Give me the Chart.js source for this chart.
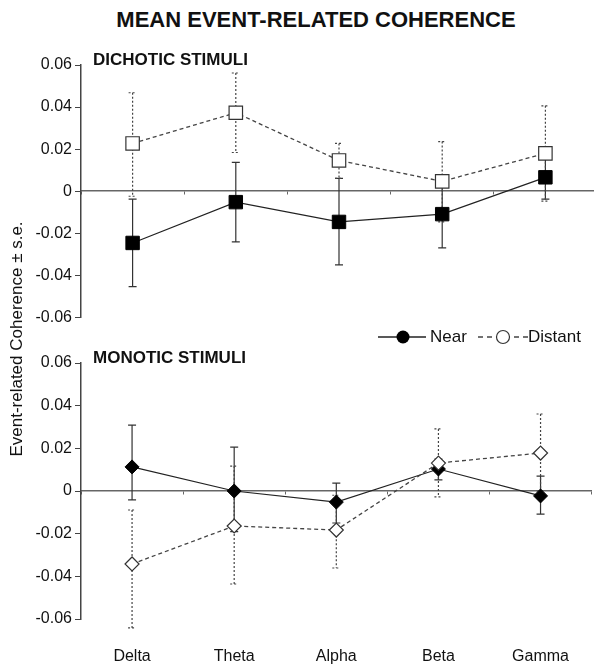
<!DOCTYPE html>
<html>
<head>
<meta charset="utf-8">
<script src="https://cdn.jsdelivr.net/npm/chart.js@4.4.1/dist/chart.umd.min.js"></script>
<style>
	body { margin: 0; background: #fff; font-family: 'Liberation Sans', Arial, sans-serif; color: #111; overflow: hidden; }
	#wrap { position: relative; width: 594px; height: 666px; overflow: hidden; }
	.abs { position: absolute; white-space: nowrap; }
	#title { left: 40px; width: 552px; top: 7px; text-align: center; font-weight: bold; font-size: 22px; line-height: 26px; }
	.panel-label { left: 93px; font-weight: bold; font-size: 17px; line-height: 20px; }
	#ytitle { left: -133px; top: 329px; width: 300px; height: 20px; line-height: 20px; font-size: 17px; text-align: center; transform: rotate(-90deg); }
	.legend-text { top: 327px; font-size: 17px; line-height: 20px; }
	canvas { position: absolute; left: 0; }
</style>
</head>
<body>
<div id="wrap">
	<canvas id="chart-dichotic" width="597" height="290" style="top:40px"></canvas>
	<canvas id="chart-monotic" width="597" height="336" style="top:330px"></canvas>

	<div id="title" class="abs">MEAN EVENT-RELATED COHERENCE</div>
	<div class="abs panel-label" style="top:50px">DICHOTIC STIMULI</div>
	<div class="abs panel-label" style="top:348px">MONOTIC STIMULI</div>
	<div id="ytitle" class="abs">Event-related Coherence ± s.e.</div>

	<svg class="abs" style="left:378px; top:329px" width="48" height="16">
		<line x1="0" y1="8" x2="48" y2="8" stroke="#222" stroke-width="1.3" />
		<circle cx="25" cy="8" r="6.5" fill="#000" />
	</svg>
	<div class="abs legend-text" style="left:430px">Near</div>
	<svg class="abs" style="left:478px; top:329px" width="50" height="16">
		<line x1="0" y1="8" x2="50" y2="8" stroke="#444" stroke-width="1.3" stroke-dasharray="5,4" />
		<circle cx="25" cy="8" r="6.5" fill="#fff" stroke="#333" stroke-width="1.2" />
	</svg>
	<div class="abs legend-text" style="left:528px">Distant</div>
</div>

<script>
const categories = ['Delta', 'Theta', 'Alpha', 'Beta', 'Gamma']
const yTicks = [-0.06, -0.04, -0.02, 0, 0.02, 0.04, 0.06]

// dichotic: means and the ends of the +/- s.e. bars
const dichoticNear = [-0.0246, -0.0052, -0.0146, -0.0109, 0.0066]
const dichoticNearHigh = [-0.0038, 0.0137, 0.0061, 0.005, 0.017]
const dichoticNearLow = [-0.0454, -0.0241, -0.035, -0.0269, -0.0038]
const dichoticDistant = [0.0227, 0.0373, 0.0146, 0.0047, 0.018]
const dichoticDistantHigh = [0.0468, 0.0562, 0.0227, 0.0236, 0.0406]
const dichoticDistantLow = [-0.0024, 0.0184, 0.0061, -0.0146, -0.0047]

// monotic
const monoticNear = [0.0113, 0.0, -0.0052, 0.0103, -0.0023]
const monoticNearHigh = [0.0309, 0.0206, 0.0037, 0.015, 0.007]
const monoticNearLow = [-0.0042, -0.019, -0.015, 0.0052, -0.0108]
const monoticDistant = [-0.0342, -0.0164, -0.0183, 0.0131, 0.0178]
const monoticDistantHigh = [-0.0089, 0.0117, -0.002, 0.0291, 0.0361]
const monoticDistantLow = [-0.0642, -0.0436, -0.0361, -0.0028, 0.0]

const family = "'Liberation Sans', Arial, sans-serif"

const errorBars = {
	id: 'errorBars',
	beforeDatasetsDraw(chart) {
		const { ctx } = chart
		const x = chart.scales.x
		const y = chart.scales.y
		chart.data.datasets.forEach((ds, i) => {
			if (!ds.errHigh || !chart.isDatasetVisible(i)) return
			ctx.save()
			ctx.strokeStyle = ds.errColor
			ctx.lineWidth = 1.2
			ctx.setLineDash(ds.errDash)
			ds.data.forEach((_, j) => {
				const px = x.getPixelForValue(j)
				const top = y.getPixelForValue(ds.errHigh[j])
				const bot = y.getPixelForValue(ds.errLow[j])
				ctx.beginPath()
				ctx.moveTo(px, top)
				ctx.lineTo(px, bot)
				ctx.moveTo(px - 4, top)
				ctx.lineTo(px + 4, top)
				ctx.moveTo(px - 4, bot)
				ctx.lineTo(px + 4, bot)
				ctx.stroke()
			})
			ctx.restore()
		})
	},
}

function makePanel(id, opts) {
	const scales = {
		x: {
			type: 'category',
			position: { y: 0 },
			offset: true,
			grid: { offset: true, drawOnChartArea: false, tickLength: 3, color: '#666' },
			border: { color: '#666', width: 1.5 },
			ticks: { display: false },
		},
		y: {
			min: -0.06,
			max: 0.06,
			afterBuildTicks: (s) => {
				s.ticks = yTicks.map((v) => ({ value: v }))
			},
			afterFit: (s) => {
				s.width = 81
			},
			grid: { drawOnChartArea: false, tickLength: 6, color: '#444' },
			border: { color: '#444', width: 1.5 },
			ticks: {
				padding: 3,
				color: '#111',
				font: { size: 16, family },
				callback: (v) => String(v),
			},
		},
	}
	if (opts.showLabels) {
		scales.xb = {
			type: 'category',
			axis: 'x',
			position: 'bottom',
			offset: true,
			grid: { display: false, drawTicks: false },
			border: { display: false },
			ticks: { padding: 28, color: '#111', font: { size: 16, family } },
			afterFit: (s) => {
				s.height = 47
			},
		}
	}

	return new Chart(document.getElementById(id), {
		type: 'line',
		data: {
			labels: categories,
			datasets: [
				{
					label: 'Near',
					data: opts.near,
					errHigh: opts.nearHigh,
					errLow: opts.nearLow,
					errColor: '#333',
					errDash: [],
					order: 1,
					borderColor: '#222',
					borderWidth: 1.2,
					pointStyle: opts.pointStyle,
					pointRadius: opts.pointRadius,
					pointBackgroundColor: '#000',
					pointBorderColor: '#000',
					pointBorderWidth: 1,
				},
				{
					label: 'Distant',
					data: opts.distant,
					errHigh: opts.distantHigh,
					errLow: opts.distantLow,
					errColor: '#444',
					errDash: [2, 2],
					order: 0,
					borderColor: '#444',
					borderWidth: 1.3,
					borderDash: [4, 3],
					pointStyle: opts.pointStyle,
					pointRadius: opts.pointRadius,
					pointBackgroundColor: '#fff',
					pointBorderColor: '#333',
					pointBorderWidth: 1.2,
				},
			],
		},
		options: {
			responsive: false,
			animation: false,
			layout: { autoPadding: false, padding: opts.padding },
			plugins: {
				legend: { display: false },
				tooltip: { enabled: false },
			},
			scales,
		},
		plugins: [errorBars],
	})
}

makePanel('chart-dichotic', {
	near: dichoticNear,
	nearHigh: dichoticNearHigh,
	nearLow: dichoticNearLow,
	distant: dichoticDistant,
	distantHigh: dichoticDistantHigh,
	distantLow: dichoticDistantLow,
	pointStyle: 'rect',
	pointRadius: 9.5,
	padding: { top: 25, bottom: 11, left: 0, right: 0 },
	showLabels: false,
})

makePanel('chart-monotic', {
	near: monoticNear,
	nearHigh: monoticNearHigh,
	nearLow: monoticNearLow,
	distant: monoticDistant,
	distantHigh: monoticDistantHigh,
	distantLow: monoticDistantLow,
	pointStyle: 'rectRot',
	pointRadius: 7,
	padding: { top: 33, bottom: 0, left: 0, right: 0 },
	showLabels: true,
})
</script>
</body>
</html>
